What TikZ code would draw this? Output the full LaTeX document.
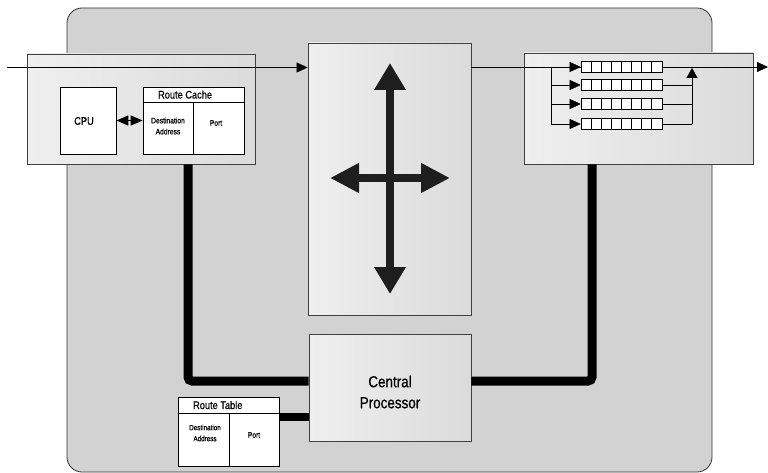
\documentclass[tikz,border=0pt]{standalone}
\usepackage{fontspec}
\setmainfont[FakeStretch=0.84,FakeBold=0.6]{Liberation Sans}
\usetikzlibrary{arrows.meta,positioning}
\definecolor{chassis}{RGB}{210,210,210}
\definecolor{cardlight}{RGB}{239,239,239}
\definecolor{carddark}{RGB}{219,219,219}
\definecolor{crossgray}{RGB}{30,30,30}
\tikzset{
  card/.style={draw=black!75,line width=.8pt,left color=cardlight,right color=carddark,inner sep=0pt},
  whitebox/.style={draw,line width=.8pt,fill=white,inner sep=0pt},
  queue/.style={draw,line width=.6pt,fill=white,minimum width=81pt,minimum height=11pt,inner sep=0pt},
  bus/.style={line width=9pt,rounded corners=4pt},
  tip/.style={-{Triangle[length=11pt,width=10pt]}},
  big/.style={font=\fontsize{11}{13}\selectfont},
  small/.style={font=\fontsize{8}{11}\selectfont,align=center}
}
\begin{document}
\begin{tikzpicture}[x=1pt,y=-1pt]
    \useasboundingbox (0,0) rectangle (768,473);
    % router chassis
    \draw[black!80,fill=chassis,line width=.8pt,rounded corners=15pt] (67,8) rectangle (712,472);

    % line card with cpu and route cache
    \node[card,minimum width=228pt,minimum height=110pt] (incard) at (141,109) {};
    \node[whitebox,minimum width=56pt,minimum height=67pt] (cpu) at (88,120.5) {};
    \node[big] (cpulabel) at (84,121) {CPU};
    \node[whitebox,minimum width=101pt,minimum height=67pt] (cache) at (193.5,120.5) {};
    \draw ([yshift=-16pt]cache.north west) -- ([yshift=-16pt]cache.north east);
    \draw ([yshift=-16pt]cache.north) -- (cache.south);
    \node[big,anchor=west] (cachetitle) at ([xshift=12pt,yshift=-8pt]cache.north west) {Route Cache};
    \node[small] (cacheaddr) at (168,126) {Destination\\Address};
    \node[small] (cacheport) at (216,123) {Port};
    \draw[{Triangle[length=12pt,width=10pt]}-{Triangle[length=12pt,width=10pt]},line width=1.5pt] (cpu.east) -- (cache.west |- cpu.east);

    % switch fabric
    \node[card,minimum width=163pt,minimum height=272pt] (switch) at (389.5,179) {};
    \draw[crossgray,line width=8pt,{Triangle[length=27pt,width=30pt]}-{Triangle[length=27pt,width=30pt]}] (390,63) -- (390,294);
    \draw[crossgray,line width=8pt,{Triangle[length=29pt,width=28pt]}-{Triangle[length=29pt,width=28pt]}] (330,178) -- (450,178);

    % output card with queues
    \node[card,minimum width=229pt,minimum height=111pt] (outcard) at (638.5,108.5) {};

    % central processor and route table
    \node[card,minimum width=162pt,minimum height=107pt] (cp) at (390,387.5) {};
    \node[font=\fontsize{16}{21}\selectfont,align=center] (cplabel) at (390,392) {Central\\Processor};
    \node[whitebox,minimum width=101pt,minimum height=69pt] (table) at (228.5,431.5) {};
    \draw ([yshift=-17pt]table.north west) -- ([yshift=-17pt]table.north east);
    \draw (229,414) -- (229,466);
    \node[big,anchor=west] (tabletitle) at ([xshift=12pt,yshift=-8.5pt]table.north west) {Route Table};
    \node[small,font=\fontsize{7.5}{11}\selectfont] (tableaddr) at (205,433) {Destination\\Address};
    \node[small] (tableport) at (254,435) {Port};

    % buses
    \coordinate (lbus) at (188,381);
    \coordinate (rbus) at (592,381);
    \coordinate (tbus) at (279,417);
    \draw[bus] (lbus |- incard.south) -- (lbus) -- (lbus -| cp.west);
    \draw[bus] (rbus -| cp.east) -- (rbus) -- (rbus |- outcard.south);
    \draw[line width=8pt] (tbus) -- (tbus -| cp.west);

    % packet path
    \coordinate (in) at (7,67.5);
    \coordinate (out) at (768,67);
    \coordinate (m) at (692,68);
    \draw[tip] (in) -- (in -| switch.west);
    \draw[tip] (switch.east |- out) -- (out);
    \draw (551,67) -- (551,124);
    \foreach \i/\y in {1/67,2/85,3/104,4/124}{
      \coordinate (s\i) at (551,\y);
      \node[queue] (q\i) at (621.5,\y) {};
      \foreach \k in {1,...,7}
        \draw[line width=.6pt] ([xshift=\k*10.125pt]q\i.north west) -- ([xshift=\k*10.125pt]q\i.south west);
      \draw[tip] (s\i) -- (q\i.west);
    }
    \foreach \i in {2,3,4}
      \draw (q\i.east) -- (q\i.east -| m);
    \draw[-{Triangle[length=10pt,width=11pt]}] (q4.east -| m) -- (m);
\end{tikzpicture}
\end{document}
